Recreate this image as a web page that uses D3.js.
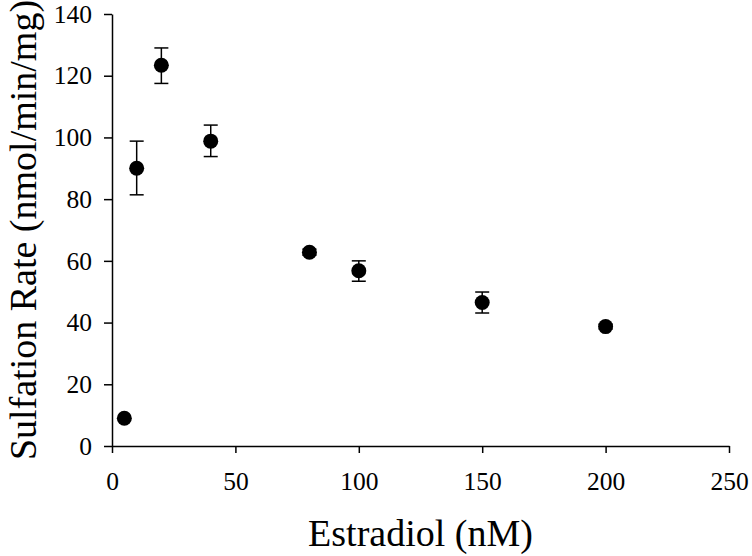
<!DOCTYPE html>
<html>
<head lang="en">
    <meta charset="UTF-8">
    <title>Sulfation Rate vs Estradiol</title>
    <script src="https://cdn.jsdelivr.net/npm/d3@7/dist/d3.min.js" charset="utf-8"></script>
    <style>
        body { margin: 0; background: #fff; }
        text { font-family: "Liberation Serif", "Times New Roman", serif; }
    </style>
</head>
<body>
    <script>
        var w = 752;
        var h = 556;

        // data
        var estradiol = [5, 10, 20, 40, 80, 100, 150, 200];
        var rate = [9, 90, 123.4, 98.8, 62.8, 56.8, 46.5, 38.7];
        var errUp = [0, 8.8, 5.6, 5.2, 1.0, 3.2, 3.4, 0.8];
        var errDown = [0, 8.6, 5.9, 5.0, 1.0, 3.4, 3.4, 0.8];
        var xTicks = [0, 50, 100, 150, 200, 250];
        var yTicks = [0, 20, 40, 60, 80, 100, 120, 140];

        var padL = 112, padR = 729, padT = 14, padB = 446;

        var x = d3.scaleLinear().domain([0, 250]).range([padL, padR]);
        var y = d3.scaleLinear().domain([0, 140]).range([padB, padT]);

        var svg = d3.select("body")
                .append("svg")
                .attr("width", w)
                .attr("height", h);

        var xAxis = svg.append("g")
                .attr("transform", "translate(0," + padB + ")")
                .call(d3.axisBottom(x).tickValues(xTicks).tickSize(7).tickPadding(19).tickSizeOuter(0));
        var yAxis = svg.append("g")
                .attr("transform", "translate(" + padL + ",0)")
                .call(d3.axisLeft(y).tickValues(yTicks).tickSize(8).tickPadding(12).tickSizeOuter(0));

        [xAxis, yAxis].forEach(function (g) {
            g.attr("font-size", 25.5).attr("font-family", "Liberation Serif, Times New Roman, serif");
            g.select(".domain").attr("stroke", "#000").attr("stroke-width", 1.5);
            g.selectAll(".tick line").attr("stroke", "#000").attr("stroke-width", 1.5);
            g.selectAll(".tick text").attr("fill", "#000");
        });

        var pts = estradiol.map(function (d, i) {
            return { x: d, y: rate[i], up: errUp[i], down: errDown[i] };
        });

        var err = svg.append("g").attr("stroke", "#000").attr("stroke-width", 1.5);
        pts.filter(function (d) { return d.up > 0 || d.down > 0; }).forEach(function (d) {
            var cx = x(d.x);
            err.append("line")
                    .attr("x1", cx).attr("x2", cx)
                    .attr("y1", y(d.y + d.up)).attr("y2", y(d.y - d.down));
            err.append("line")
                    .attr("x1", cx - 7).attr("x2", cx + 7)
                    .attr("y1", y(d.y + d.up)).attr("y2", y(d.y + d.up));
            err.append("line")
                    .attr("x1", cx - 7).attr("x2", cx + 7)
                    .attr("y1", y(d.y - d.down)).attr("y2", y(d.y - d.down));
        });

        svg.selectAll("circle.pt")
                .data(pts)
                .enter()
                .append("circle")
                .attr("class", "pt")
                .attr("cx", function (d) { return x(d.x); })
                .attr("cy", function (d) { return y(d.y); })
                .attr("r", 7.5)
                .attr("fill", "#000");

        svg.append("text")
                .text("Estradiol (nM)")
                .attr("x", (padL + padR) / 2)
                .attr("y", 546)
                .attr("text-anchor", "middle")
                .attr("font-size", 38)
                .attr("fill", "#000");

        svg.append("text")
                .text("Sulfation Rate (nmol/min/mg)")
                .attr("transform", "translate(36,230) rotate(-90)")
                .attr("text-anchor", "middle")
                .attr("font-size", 38)
                .attr("fill", "#000");
    </script>
</body>
</html>
